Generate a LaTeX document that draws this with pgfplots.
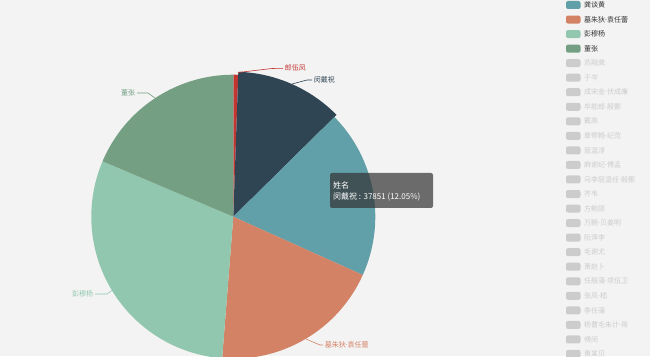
\documentclass[border=0pt]{standalone}
\usepackage{fontspec}
\setmainfont{Noto Sans CJK SC}
\newfontfamily\latinfont{Noto Sans}
\newcommand\dt{{\latinfont ·}}
\usepackage{pgfplots}
\usepackage{pgfplotstable}
\pgfplotsset{compat=1.18}
\definecolor{bgc}{HTML}{F3F3F3}
\definecolor{c0}{HTML}{C23531}
\definecolor{c1}{HTML}{2F4554}
\definecolor{c2}{HTML}{61A0A8}
\definecolor{c3}{HTML}{D48265}
\definecolor{c4}{HTML}{91C7AE}
\definecolor{c5}{HTML}{749F83}
\definecolor{legtxt}{HTML}{333333}
\definecolor{leggrey}{HTML}{CCCCCC}
\definecolor{tipbg}{RGB}{50,50,50}

% pie data: value, radius (px); hovered slice slightly larger
\pgfplotstableread{
value r
1730 142
37851 145
60000 142
61250 142
94550 142
58430 142
}\piedata

\def\pietotal{0}
\pgfplotsforeachungrouped \i in {0,...,5}{%
  \pgfplotstablegetelem{\i}{value}\of\piedata
  \xdef\pietotal{\fpeval{\pietotal+\pgfplotsretval}}%
}
\def\piecum{0}
\pgfplotsforeachungrouped \i in {0,...,5}{%
  \pgfplotstablegetelem{\i}{value}\of\piedata
  \let\pieval\pgfplotsretval
  \pgfplotstablegetelem{\i}{r}\of\piedata
  \expandafter\xdef\csname pieR\i\endcsname{\pgfplotsretval}%
  \expandafter\xdef\csname pieS\i\endcsname{\fpeval{90-360*\piecum/\pietotal}}%
  \xdef\piecum{\fpeval{\piecum+\pieval}}%
  \expandafter\xdef\csname pieE\i\endcsname{\fpeval{90-360*\piecum/\pietotal}}%
}

\begin{document}
\begin{tikzpicture}[x=1pt,y=1pt]
\useasboundingbox (0,0) rectangle (650,356);
\fill[bgc] (0,0) rectangle (650,356);
\begin{axis}[at={(0,0)},anchor=south west,x=1pt,y=1pt,
  xmin=0,xmax=650,ymin=0,ymax=356,hide axis,clip=true]
\pgfplotsforeachungrouped \i in {0,...,5}{%
  \edef\temp{\noexpand\fill[c\i] (axis cs:233.3,139.3) -- ++(\csname pieS\i\endcsname:\csname pieR\i\endcsname pt)
    arc[start angle=\csname pieS\i\endcsname, end angle=\csname pieE\i\endcsname, radius=\csname pieR\i\endcsname pt] -- cycle;}%
  \temp
}
\end{axis}

% slice labels
\begin{scope}[line width=0.6pt, every node/.style={inner sep=0pt, font=\fontsize{7}{8}\selectfont}]
\draw[c0] (238,283.5) -- (272,287.5) -- (283,287.7);
\node[c0, anchor=west] at (284.5,287.7) {郎伍凤};
\draw[c1] (292,272) -- (307,276) -- (312,276);
\node[c1, anchor=west] at (313.5,276) {闵戴祝};
\draw[c5] (155,258) -- (148,263) -- (137,263);
\node[c5, anchor=east] at (135.5,263) {董张};
\draw[c4] (112,65.5) -- (107,62) -- (95,62);
\node[c4, anchor=east] at (93.5,62) {彭穆杨};
\draw[c3] (305.7,17.1) -- (320,11) -- (323,11);
\node[c3, anchor=west] at (324.5,11) {墓朱狄\dt 袁任蕾};
\end{scope}

% tooltip
\fill[tipbg, fill opacity=0.7, rounded corners=2pt] (330,148) rectangle (433,183);
\node[white, anchor=west, inner sep=0pt, font=\fontsize{8}{9}\selectfont] at (333,171) {姓名};
\node[white, anchor=west, inner sep=0pt, font=\fontsize{8}{9}\selectfont] at (333,159) {闵戴祝 : 37851 (12.05\%)};

% legend
\begin{scope}[every node/.style={inner sep=0pt, anchor=west, font=\fontsize{7}{8}\selectfont}]
\foreach \k/\name/\col/\tc in {0/龚谈黄/c2/legtxt, 1/墓朱狄\dt 袁任蕾/c3/legtxt, 2/彭穆杨/c4/legtxt, 3/董张/c5/legtxt,
  4/苏融龚/leggrey/leggrey, 5/于岑/leggrey/leggrey, 6/成宋金\dt 伏成廉/leggrey/leggrey, 7/毕能郎\dt 殷酆/leggrey/leggrey,
  8/戴高/leggrey/leggrey, 9/章鄂畅\dt 纪范/leggrey/leggrey, 10/屈温淳/leggrey/leggrey, 11/麻谢纪\dt 傅孟/leggrey/leggrey,
  12/马李屈温任\dt 殷酆/leggrey/leggrey, 13/齐韦/leggrey/leggrey, 14/方鲍邵/leggrey/leggrey, 15/万鹏\dt 贝姜明/leggrey/leggrey,
  16/阮萍李/leggrey/leggrey, 17/毛谢尤/leggrey/leggrey, 18/萧赵卜/leggrey/leggrey, 19/任殷蒲\dt 项伍卫/leggrey/leggrey,
  20/张凤\dt 嵇/leggrey/leggrey, 21/季任蒲/leggrey/leggrey, 22/杨曹毛朱计\dt 蒋/leggrey/leggrey, 23/傅闵/leggrey/leggrey,
  24/黄某贝/leggrey/leggrey}{
  \pgfmathsetmacro\yy{351-14.54*\k}
  \fill[\col, rounded corners=2pt] (566,\yy-4) rectangle (580.5,\yy+4);
  \node[text=\tc] at (584,\yy) {\name};
}
\end{scope}
\end{tikzpicture}
\end{document}
